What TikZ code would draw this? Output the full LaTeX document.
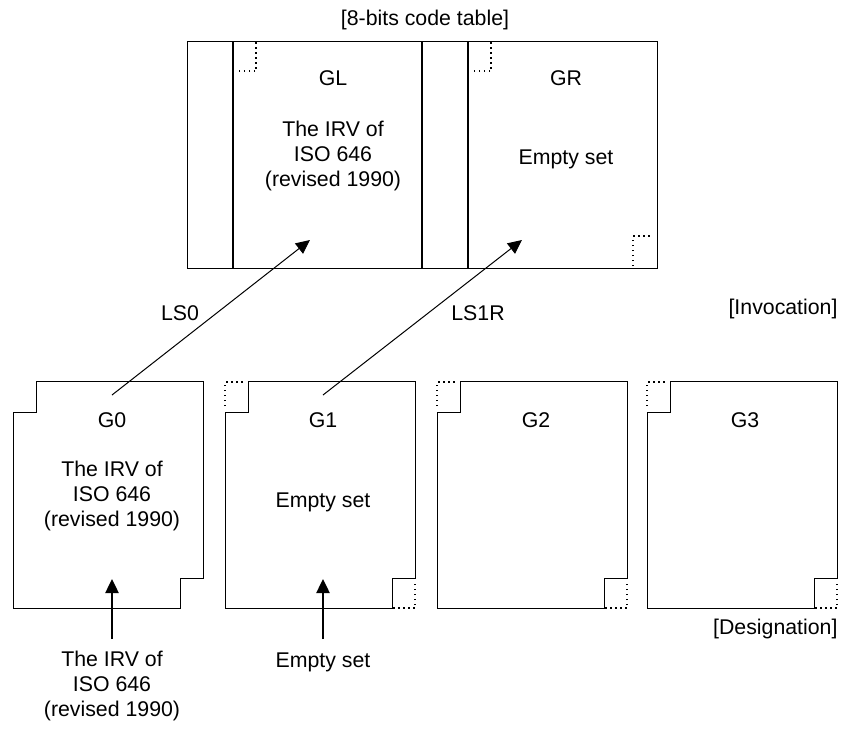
\documentclass[tikz,border=0pt]{standalone}
\usepackage{fontspec}
\setmainfont{Liberation Sans}
\usetikzlibrary{arrows.meta}

\begin{document}
\begin{tikzpicture}[x=1pt, y=-1pt, line width=1pt,
    every node/.style={font=\fontsize{21.3}{25}\selectfont, align=center, inner sep=0pt},
    setarrow/.style={-{Triangle[length=14pt,width=13pt]}},
    dotcorner/.style={line width=1.3pt, dash pattern=on 1.5pt off 3.5pt}]

\useasboundingbox (0,0) rectangle (843,729);

%notched box of a graphic set, #1 = left edge
%  top-left notch and bottom-right notch are 23 x 31
\newcommand{\gsetbox}[1]{
        \draw (#1+23,381) -- (#1+190,381) -- (#1+190,578) -- (#1+167,578)
              -- (#1+167,608) -- (#1,608) -- (#1,412) -- (#1+23,412) -- cycle;
}
%dotted corners that fill the notches
\newcommand{\gsetcorners}[1]{
        \draw[dotcorner] (#1,406) -- (#1,382) -- (#1+19,382);
        \draw[dotcorner] (#1+168,608) -- (#1+190,608) -- (#1+190,582);
}

%%8-bits code table
\node (tabletitle) at (425,20) {[8-bits code table]};
\draw (187,41) rectangle (657,268);
\draw[line width=2pt] (233,41) -- (233,268);
\draw[line width=2pt] (422,41) -- (422,268);
\draw[line width=2pt] (468,41) -- (468,268);
\draw[dotcorner] (256,42) -- (256,71) -- (236,71);
\draw[dotcorner] (491,42) -- (491,71) -- (471,71);
\draw[dotcorner] (633,266) -- (633,236) -- (650,236);

\node (gl) at (333,78) {GL};
\node (gltext) at (333,156) {The IRV of\\ISO 646\\(revised 1990)};
\node (gr) at (566,78) {GR};
\node (grtext) at (566,159) {Empty set};
\coordinate (glin) at (310,240);
\coordinate (grin) at (522,240);

%%invocation
\node (lszero) at (180,313) {LS0};
\node (lsoner) at (478,313) {LS1R};
\node[anchor=east] (invocation) at (838,309) {[Invocation]};

%%graphic sets
\gsetbox{13}
\gsetbox{225}
\gsetbox{437}
\gsetbox{647}

\gsetcorners{225}
\gsetcorners{437}
\gsetcorners{647}

\node (gzero) at (112,420) {G0};
\node (gone) at (323,420) {G1};
\node (gtwo) at (536,420) {G2};
\node (gthree) at (745,420) {G3};
\node (gzerotext) at (112,496) {The IRV of\\ISO 646\\(revised 1990)};
\node (gonetext) at (323,502) {Empty set};
\coordinate (gzeroout) at (112,395);
\coordinate (goneout) at (323,395);
\coordinate (gzeroin) at (112,579);
\coordinate (gonein) at (323,579);

\draw[setarrow] (gzeroout) -- (glin);
\draw[setarrow] (goneout) -- (grin);

%%designation
\node[anchor=east] (designation) at (838,629) {[Designation]};
\node[anchor=north] (irvin) at (112,651) {The IRV of\\ISO 646\\(revised 1990)};
\node[anchor=north] (emptyin) at (323,652) {Empty set};

\draw[setarrow, line width=2.5pt, shorten <=12pt] (irvin.north) -- (gzeroin);
\draw[setarrow, line width=2.5pt, shorten <=13pt] (emptyin.north) -- (gonein);

\end{tikzpicture}
\end{document}
